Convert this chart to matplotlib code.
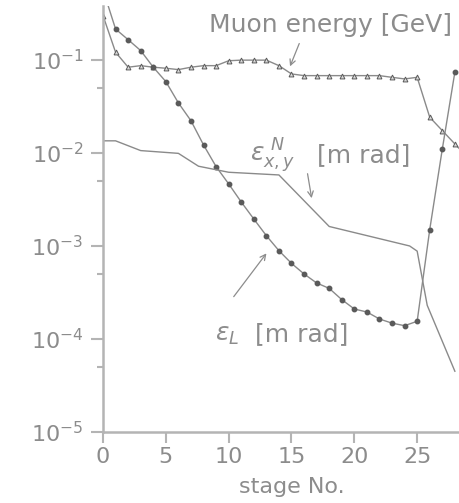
import numpy as np
import matplotlib
matplotlib.use('Agg')
import matplotlib.pyplot as plt

# ── data ──
stage = np.arange(0, 30)

muon_energy = [0.30, 0.121, 0.0835, 0.0868, 0.0835, 0.0814, 0.0787, 0.0835,
               0.0868, 0.0868, 0.098, 0.0995, 0.0995, 0.0995, 0.0868, 0.0707,
               0.0678, 0.0678, 0.0678, 0.0678, 0.0678, 0.0678, 0.0678, 0.065,
               0.0625, 0.065, 0.0242, 0.0174, 0.0125, 0.009]

eps_L = [0.57, 0.215, 0.165, 0.126, 0.0835, 0.0585, 0.0345, 0.0222, 0.0122,
         0.00713, 0.00465, 0.00297, 0.00195, 0.00129, 0.00089, 0.00065,
         0.0005, 0.0004, 0.00035, 0.000265, 0.00021, 0.000195, 0.000164,
         0.000148, 0.000139, 0.000155, 0.0015, 0.011, 0.074]

# transverse emittance: plain polyline, vertices not on every stage
eps_xy_stage = [0, 1, 3, 6, 7.6, 10, 14, 18, 24.4, 25, 25.8, 28]
eps_xy = [0.0135, 0.0135, 0.0106, 0.0099, 0.0072, 0.0062, 0.0058, 0.00162,
          0.00100, 0.00088, 0.00023, 0.000045]

x_ticks = [0, 5, 10, 15, 20, 25]
y_ticks = [1e-5, 1e-4, 1e-3, 1e-2, 1e-1]
y_minor = [5e-5, 5e-4, 5e-3, 5e-2]

TXT = '#8c8c8c'
AX = '#b4b4b4'
LINE = '#8a8a8a'
MARK = '#5a5a5a'

plt.rcParams['mathtext.fontset'] = 'dejavusans'

fig = plt.figure(figsize=(4.6, 5.03), dpi=100)
ax = fig.add_axes([103 / 460, 71 / 503, 377 / 460, 426 / 503])

ax.plot(stage[:len(muon_energy)], muon_energy, color=LINE, lw=1.0,
        marker='^', ms=3.5, mfc='#d8d8d8', mec=MARK, mew=0.7)
ax.plot(stage[:len(eps_L)], eps_L, color=LINE, lw=1.0,
        marker='o', ms=3.2, mfc=MARK, mec=MARK)
ax.plot(eps_xy_stage, eps_xy, color=LINE, lw=1.0)

ax.set_yscale('log')
ax.set_xlim(0, 30)
ax.set_ylim(1e-5, 0.38)

ax.set_xticks(x_ticks)
ax.set_xticklabels([str(t) for t in x_ticks])
ax.set_yticks(y_ticks)
ax.set_yticklabels([r'$10^{%d}$' % int(np.log10(t)) for t in y_ticks])
ax.yaxis.set_minor_locator(matplotlib.ticker.FixedLocator(y_minor))
ax.yaxis.set_minor_formatter(matplotlib.ticker.NullFormatter())

for s in ['top', 'right']:
    ax.spines[s].set_visible(False)
for s in ['left', 'bottom']:
    ax.spines[s].set_color(AX)
    ax.spines[s].set_linewidth(1.8)

ax.tick_params(axis='both', which='major', colors=AX, labelcolor=TXT,
               labelsize=16, width=1.5, length=9, pad=5)
ax.tick_params(axis='y', which='minor', colors=AX, width=1.5, length=4.5)
ax.tick_params(axis='x', which='major', length=8, pad=3)

ax.set_xlabel('stage No.', color=TXT, fontsize=16, labelpad=7)

# ── annotations ──
fs = 18
ax.text(8.4, 0.24, 'Muon energy [GeV]', color=TXT, fontsize=fs,
        ha='left', va='center', clip_on=False)
ax.annotate('', xy=(14.8, 0.080), xytext=(15.7, 0.16),
            arrowprops=dict(arrowstyle='->', color=TXT, lw=0.9))

ax.text(11.7, 0.0080, r'$\epsilon_{x,y}^{\ N}$', color=TXT, fontsize=fs,
        ha='left', va='baseline')
ax.text(17.0, 0.0080, '[m rad]', color=TXT, fontsize=fs,
        ha='left', va='baseline')
ax.annotate('', xy=(16.64, 0.00305), xytext=(16.24, 0.0064),
            arrowprops=dict(arrowstyle='->', color=TXT, lw=0.9))

ax.text(8.9, 9.5e-5, r'$\epsilon_{L}$', color=TXT, fontsize=fs,
        ha='left', va='baseline')
ax.text(12.1, 9.5e-5, '[m rad]', color=TXT, fontsize=fs,
        ha='left', va='baseline')
ax.annotate('', xy=(13.14, 8.8e-4), xytext=(10.27, 2.7e-4),
            arrowprops=dict(arrowstyle='->', color=TXT, lw=0.9))

fig.savefig('out.png', dpi=100)
